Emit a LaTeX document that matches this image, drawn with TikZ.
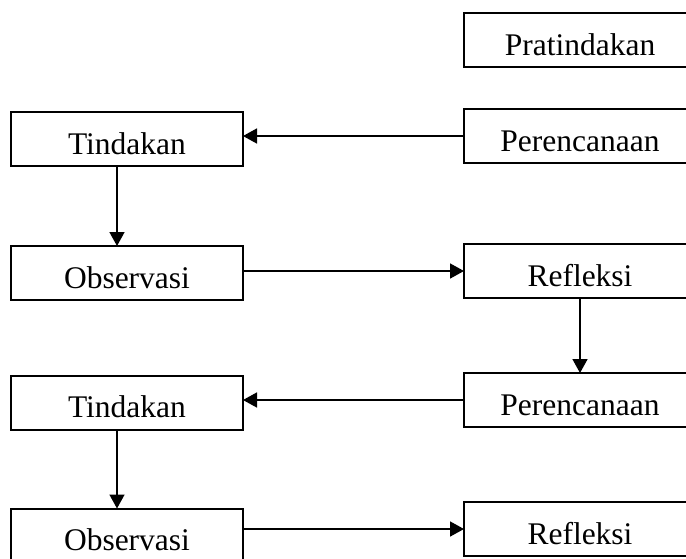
\documentclass[tikz,border=0pt]{standalone}
\usepackage{fontspec}
\setmainfont{Liberation Serif}
\usetikzlibrary{positioning, arrows.meta}

\begin{document}
\begin{tikzpicture}[
  >={Triangle[length=7pt, width=7.5pt]},
  every node/.style={font=\fontsize{15.75pt}{18pt}\selectfont},
  box/.style = {draw, line width=1pt, minimum width=116pt, minimum height=27pt,
                inner sep=0pt, outer sep=0pt, text height=15pt, text depth=0pt},
  arr/.style = {->, line width=0.8pt},
]
  \useasboundingbox (0,0) rectangle (343pt,-279pt);
  \clip (0,0) rectangle (343pt,-279pt);
  % Right column: Pratindakan at top, then the cycles downwards.
  \node[box] (prat) at (290pt,-20pt)  {Pratindakan};
  \node[box, below=21pt of prat]      (per1) {Perencanaan};
  \node[box, below=40.5pt of per1]    (ref1) {Refleksi};
  \node[box, below=37.5pt of ref1]    (per2) {Perencanaan};
  \node[box, below=37.5pt of per2]    (ref2) {Refleksi};
  % Left column, level with the right one.
  \node[box, left=110.5pt of per1, yshift=-1.5pt]  (tin1) {Tindakan};
  \node[box, left=110.5pt of ref1, yshift=-1pt]    (obs1) {Observasi};
  \node[box, left=110.5pt of per2, yshift=-1.25pt] (tin2) {Tindakan};
  \node[box, left=110.5pt of ref2, yshift=-3.25pt] (obs2) {Observasi};

  \foreach \a/\b in {per1/tin1, per2/tin2}
     \draw[arr] (\a.west) -- (\a.west -| \b.east);
  \foreach \a/\b in {obs1/ref1, obs2/ref2}
     \draw[arr] (\b.west -| \a.east) -- (\b.west);
  \foreach \a/\b in {tin1/obs1, tin2/obs2}
     \draw[arr] ([xshift=-5pt]\a.south) -- ([xshift=-5pt]\a.south |- \b.north);
  \draw[arr] (ref1.south) -- (ref1.south |- per2.north);
\end{tikzpicture}
\end{document}
